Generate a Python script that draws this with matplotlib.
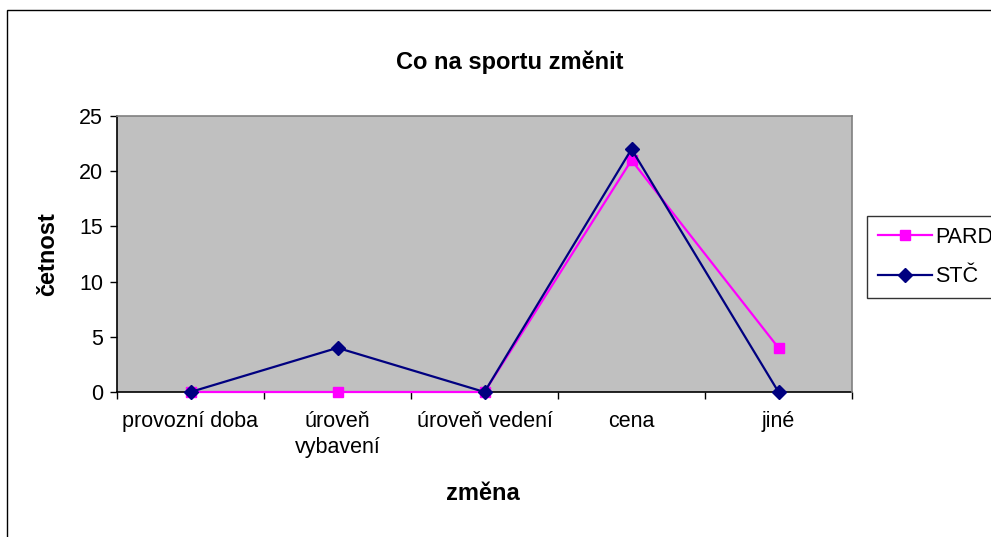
import matplotlib
matplotlib.use("Agg")
import matplotlib.pyplot as plt
from matplotlib.patches import Rectangle

categories = ["provozní doba", "úroveň\nvybavení", "úroveň vedení", "cena", "jiné"]
pard = [0, 0, 0, 21, 4]
stc = [0, 4, 0, 22, 0]
yticks = [0, 5, 10, 15, 20, 25]

plt.rcParams['font.family'] = ['Liberation Sans', 'DejaVu Sans']

W, H = 991, 537
fig = plt.figure(figsize=(W / 100, H / 100), dpi=100)
fig.patch.set_facecolor("white")

# outer chart border
fig.patches.append(Rectangle((7 / W, -0.05), 1.1, 1 - 10 / H + 0.05,
                             transform=fig.transFigure, fill=False,
                             edgecolor="black", linewidth=1.0))

ax = fig.add_axes([117 / W, 1 - 392 / H, (852 - 117) / W, (392 - 116) / H])
ax.set_facecolor("#C0C0C0")

x = list(range(len(categories)))
ax.plot(x, pard, color="#FF00FF", lw=1.6, marker="s", ms=7.5,
        markerfacecolor="#FF00FF", markeredgecolor="#FF00FF", label="PARD",
        zorder=5, clip_on=False)
ax.plot(x, stc, color="#000080", lw=1.6, marker="D", ms=7.5,
        markerfacecolor="#000080", markeredgecolor="#000080", label="STČ",
        zorder=6, clip_on=False)

ax.set_xlim(-0.5, len(categories) - 0.5)
ax.set_ylim(0, 25)
ax.set_yticks(yticks)
ax.set_yticklabels([str(v) for v in yticks], fontsize=15.5)
ax.set_xticks([i - 0.5 for i in range(len(categories) + 1)])
ax.set_xticklabels([])
ax.set_xticks(x, minor=True)
ax.set_xticklabels(categories, minor=True, fontsize=15.5, linespacing=1.3)
ax.tick_params(axis="x", which="minor", length=0, pad=14)
ax.tick_params(axis="x", which="major", direction="out", length=5, width=1, color="black")
ax.tick_params(axis="y", direction="out", length=5, width=1, color="black", pad=5)

for s in ["left", "bottom"]:
    ax.spines[s].set_color("black")
    ax.spines[s].set_linewidth(1.2)
    ax.spines[s].set_zorder(2)
for s in ["top", "right"]:
    ax.spines[s].set_color("#808080")
    ax.spines[s].set_linewidth(1.2)

fig.text(510 / W, 1 - 62 / H, "Co na sportu změnit", ha="center", va="center",
         fontsize=17, fontweight="bold")
fig.text(48 / W, 1 - 254 / H, "četnost", ha="center", va="center",
         rotation=90, fontsize=17, fontweight="bold")
fig.text(483 / W, 1 - 494 / H, "změna", ha="center", va="center",
         fontsize=17, fontweight="bold")

leg = ax.legend(loc="upper left", bbox_to_anchor=(867 / W, 1 - 216 / H),
                bbox_transform=fig.transFigure, frameon=True, fancybox=False,
                fontsize=15.5, handlelength=2.5, borderpad=0.5, labelspacing=0.85,
                handletextpad=0.15, borderaxespad=0)
leg.get_frame().set_edgecolor("black")
leg.get_frame().set_linewidth(1.0)
leg.get_frame().set_facecolor("white")

fig.savefig("out.png", dpi=100)
